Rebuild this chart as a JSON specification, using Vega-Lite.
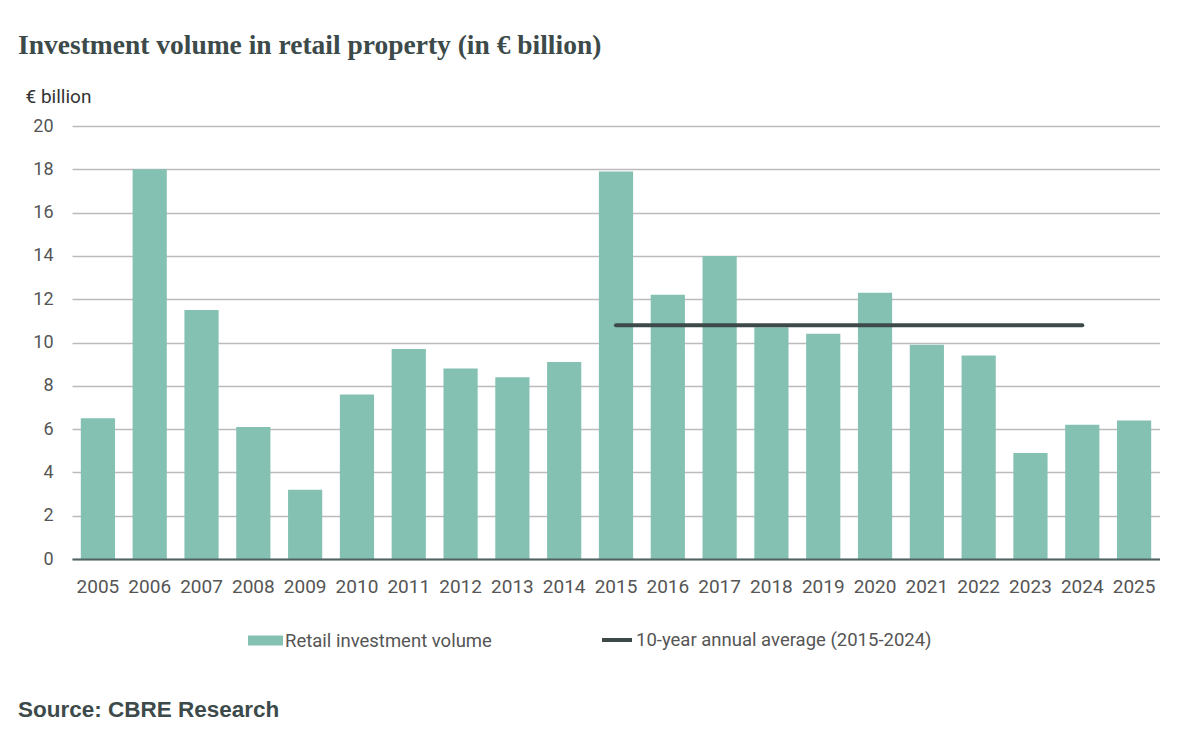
{
  "$schema": "https://vega.github.io/schema/vega-lite/v6.json",
  "background": "white",
  "padding": {"left": 18, "top": 31, "right": 0, "bottom": 0},
  "title": {
    "text": "Investment volume in retail property (in € billion)",
    "anchor": "start",
    "frame": "bounds",
    "font": "Liberation Serif",
    "fontSize": 27.5,
    "fontWeight": "bold",
    "color": "#3c4a4a",
    "offset": 28
  },
  "config": {
    "view": {"stroke": null},
    "font": "Roboto"
  },
  "datasets": {
    "volume": [
      {"year": "2005", "volume": 6.5, "series": "Retail investment volume"},
      {"year": "2006", "volume": 18.0, "series": "Retail investment volume"},
      {"year": "2007", "volume": 11.5, "series": "Retail investment volume"},
      {"year": "2008", "volume": 6.1, "series": "Retail investment volume"},
      {"year": "2009", "volume": 3.2, "series": "Retail investment volume"},
      {"year": "2010", "volume": 7.6, "series": "Retail investment volume"},
      {"year": "2011", "volume": 9.7, "series": "Retail investment volume"},
      {"year": "2012", "volume": 8.8, "series": "Retail investment volume"},
      {"year": "2013", "volume": 8.4, "series": "Retail investment volume"},
      {"year": "2014", "volume": 9.1, "series": "Retail investment volume"},
      {"year": "2015", "volume": 17.9, "series": "Retail investment volume"},
      {"year": "2016", "volume": 12.2, "series": "Retail investment volume"},
      {"year": "2017", "volume": 14.0, "series": "Retail investment volume"},
      {"year": "2018", "volume": 10.7, "series": "Retail investment volume"},
      {"year": "2019", "volume": 10.4, "series": "Retail investment volume"},
      {"year": "2020", "volume": 12.3, "series": "Retail investment volume"},
      {"year": "2021", "volume": 9.9, "series": "Retail investment volume"},
      {"year": "2022", "volume": 9.4, "series": "Retail investment volume"},
      {"year": "2023", "volume": 4.9, "series": "Retail investment volume"},
      {"year": "2024", "volume": 6.2, "series": "Retail investment volume"},
      {"year": "2025", "volume": 6.4, "series": "Retail investment volume"}
    ],
    "average": [
      {"from": "2015", "to": "2024", "value": 10.8, "series": "10-year annual average (2015-2024)"}
    ]
  },
  "vconcat": [
    {
      "width": 1088,
      "height": 433,
      "title": {
        "text": "Source: CBRE Research",
        "orient": "bottom",
        "anchor": "start",
        "frame": "bounds",
        "font": "Liberation Sans",
        "fontSize": 22.5,
        "fontWeight": "bold",
        "color": "#3c4a4a",
        "offset": 103,
        "dx": -7
      },
      "layer": [
        {
          "data": {"name": "volume"},
          "mark": {"type": "bar"},
          "encoding": {
            "x": {
              "field": "year",
              "type": "ordinal",
              "scale": {"paddingInner": 0.34, "paddingOuter": 0.17},
              "axis": {
                "title": null,
                "labelAngle": 0,
                "labelFont": "Roboto",
                "labelFontSize": 19,
                "labelColor": "#555555",
                "labelPadding": 18,
                "ticks": false,
                "tickSize": 0,
                "domainColor": "#4f6363",
                "domainWidth": 2,
                "grid": false,
                "zindex": 1
              }
            },
            "y": {
              "field": "volume",
              "type": "quantitative",
              "scale": {"domain": [0, 20]},
              "axis": {
                "title": "€ billion",
                "titleAngle": 0,
                "titleX": -47,
                "titleY": -24,
                "titleAlign": "left",
                "titleBaseline": "alphabetic",
                "titleFont": "Roboto",
                "titleFontSize": 19,
                "titleFontWeight": "normal",
                "titleColor": "#333333",
                "values": [0, 2, 4, 6, 8, 10, 12, 14, 16, 18, 20],
                "labelFont": "Roboto",
                "labelFontSize": 18,
                "labelColor": "#555555",
                "labelPadding": 19,
                "ticks": false,
                "tickSize": 0,
                "domain": false,
                "gridColor": "#bbbbbb",
                "gridWidth": 1.5
              }
            },
            "fill": {
              "field": "series",
              "type": "nominal",
              "scale": {"range": ["#84c1b3"]},
              "legend": {
                "title": null,
                "orient": "none",
                "legendX": 176,
                "legendY": 497,
                "padding": 0,
                "symbolType": "M-1,-0.29H1V0.29H-1Z",
                "symbolSize": 1225,
                "symbolStrokeWidth": 0,
                "symbolOpacity": 1,
                "labelOffset": 2,
                "labelFont": "Roboto",
                "labelFontSize": 18.5,
                "labelColor": "#555555",
                "labelLimit": 400
              }
            }
          }
        },
        {
          "data": {"name": "average"},
          "mark": {"type": "rule", "strokeWidth": 4, "strokeCap": "round"},
          "encoding": {
            "x": {"field": "from", "type": "ordinal"},
            "x2": {"field": "to"},
            "y": {"field": "value", "type": "quantitative"},
            "stroke": {
              "field": "series",
              "type": "nominal",
              "scale": {"range": ["#3e4a4a"]},
              "legend": {
                "title": null,
                "orient": "none",
                "legendX": 528,
                "legendY": 497,
                "padding": 0,
                "symbolType": "stroke",
                "symbolSize": 900,
                "symbolStrokeWidth": 4,
                "labelOffset": 2,
                "labelFont": "Roboto",
                "labelFontSize": 18.5,
                "labelColor": "#555555",
                "labelLimit": 400
              }
            }
          }
        }
      ]
    }
  ]
}
